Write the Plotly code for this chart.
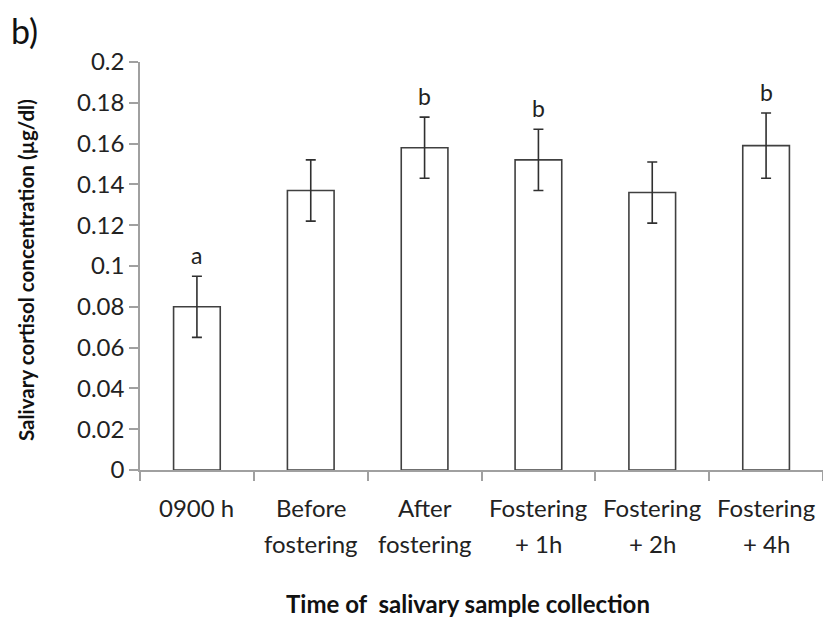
import plotly.graph_objects as go

categories = ["0900 h", "Before<br>fostering", "After<br>fostering",
              "Fostering<br>+ 1h", "Fostering<br>+ 2h", "Fostering<br>+ 4h"]
means = [0.080, 0.137, 0.158, 0.152, 0.136, 0.159]
errors = [0.015, 0.015, 0.015, 0.015, 0.015, 0.016]
letters = ["a", "", "b", "b", "", "b"]
y_ticks = [0, 0.02, 0.04, 0.06, 0.08, 0.1, 0.12, 0.14, 0.16, 0.18, 0.2]
y_tick_text = ["0", "0.02", "0.04", "0.06", "0.08", "0.1", "0.12", "0.14", "0.16", "0.18", "0.2"]

FONT = "Lato"
AXIS_COLOR = "#a0a0a0"

fig = go.Figure()
fig.add_trace(go.Bar(
    x=categories, y=means,
    marker=dict(color="white", line=dict(color="#404040", width=1.6)),
    error_y=dict(type="data", array=errors, visible=True, color="#303030",
                 thickness=1.6, width=5),
))

for c, m, e, l in zip(categories, means, errors, letters):
    if l:
        fig.add_annotation(x=c, y=m + e, text=l, showarrow=False,
                           yanchor="bottom", yshift=5,
                           font=dict(family=FONT, size=23, color="#222"))

# category labels drawn line by line for wider line spacing
line_y = [-0.0907, -0.179]
for c in categories:
    for i, part in enumerate(c.split("<br>")):
        fig.add_annotation(x=c, xref="x", yref="paper", y=line_y[i], text=part,
                           showarrow=False, xanchor="center", yanchor="middle",
                           font=dict(family=FONT, size=24, color="#222"))

fig.add_annotation(xref="paper", yref="paper", x=0.48, y=-0.328, xanchor="center",
                   yanchor="middle", showarrow=False,
                   text="<b>Time of  salivary sample collection</b>",
                   font=dict(family=FONT, size=24, color="#111"))
fig.add_annotation(xref="paper", yref="paper", x=-0.167, y=0.49, xanchor="center",
                   yanchor="middle", showarrow=False, textangle=-90,
                   text="<b>Salivary cortisol concentration (µg/dl)</b>",
                   font=dict(family=FONT, size=20.5, color="#111"))
fig.add_annotation(xref="paper", yref="paper", x=-0.192, y=1.078, xanchor="left",
                   yanchor="middle", showarrow=False, text="b)",
                   font=dict(family=FONT, size=34, color="#111"))

fig.update_layout(
    width=823, height=618,
    margin=dict(l=140, r=0, t=62, b=148),
    plot_bgcolor="white", paper_bgcolor="white",
    bargap=0.59, showlegend=False,
    font=dict(family=FONT, size=24, color="#222"),
    xaxis=dict(showline=True, linecolor=AXIS_COLOR, linewidth=1.5,
               ticks="outside", tickson="boundaries", ticklen=9,
               tickcolor=AXIS_COLOR, tickwidth=1.5, showgrid=False,
               showticklabels=False),
    yaxis=dict(range=[0, 0.2], tickvals=y_ticks, ticktext=y_tick_text,
               showline=True, linecolor=AXIS_COLOR, linewidth=1.5,
               ticks="outside", ticklen=9, tickcolor=AXIS_COLOR, tickwidth=1.5,
               showgrid=False, zeroline=False, ticksuffix="\u2007",
               tickfont=dict(family=FONT, size=24, color="#222")),
)

fig.write_html("out.html")
